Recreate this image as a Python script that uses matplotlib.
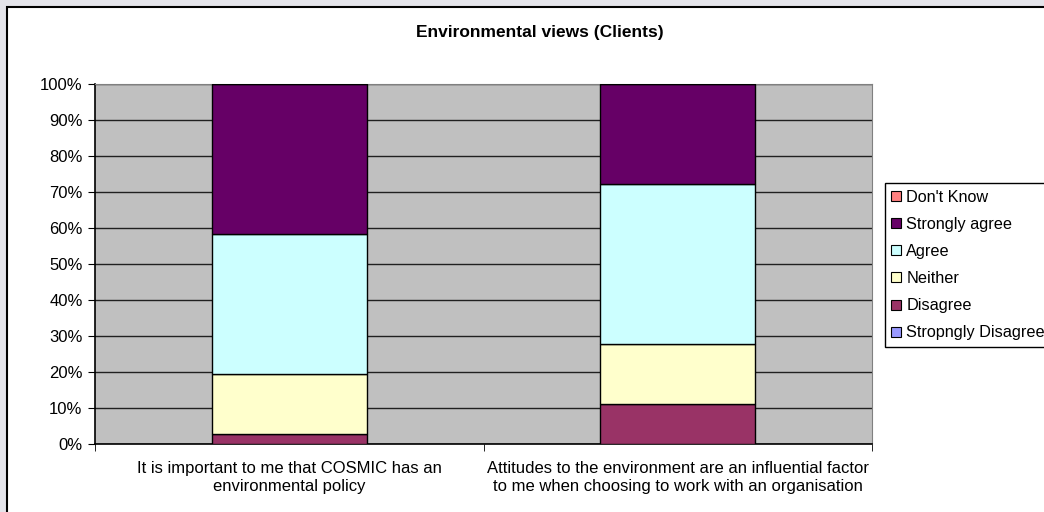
import matplotlib.pyplot as plt
import numpy as np
from matplotlib.patches import Rectangle
from matplotlib.lines import Line2D

plt.rcParams['font.family'] = ['Liberation Sans', 'DejaVu Sans']

categories = ['It is important to me that COSMIC has an\nenvironmental policy',
              'Attitudes to the environment are an influential factor\nto me when choosing to work with an organisation']
series_names = ['Stropngly Disagree', 'Disagree', 'Neither', 'Agree', 'Strongly agree', "Don't Know"]
strongly_disagree = [0.0, 0.0]
disagree = [2.8, 11.1]
neither = [16.7, 16.7]
agree = [38.9, 44.4]
strongly_agree = [41.7, 27.8]
dont_know = [0.0, 0.0]
colors = ['#9999FF', '#993366', '#FFFFCC', '#CCFFFF', '#660066', '#FF8080']

fs = 12
fig = plt.figure(figsize=(10.44, 5.12), dpi=100)
fig.patch.set_facecolor('#e4e4ea')
# white chart frame
fig.patches.append(Rectangle((7 / 1044, -0.05), 1.1, 1 - 7 / 512 + 0.05,
                             transform=fig.transFigure, facecolor='white',
                             edgecolor='black', linewidth=1.5, zorder=-1))

ax = fig.add_axes([95 / 1044, 1 - 444 / 512, (872 - 95) / 1044, (444 - 84.3) / 512])
ax.set_facecolor('#C0C0C0')

x = np.arange(len(categories))
all_series = [strongly_disagree, disagree, neither, agree, strongly_agree, dont_know]
bottom = np.zeros(len(categories))
for name, vals, c in zip(series_names, all_series, colors):
    ax.bar(x, vals, 0.4, bottom=bottom, color=c, edgecolor='black', linewidth=1, zorder=3)
    bottom += np.array(vals)

ax.set_xlim(-0.5, 1.5)
ax.set_ylim(0, 100)
ax.set_yticks(np.arange(0, 101, 10))
ax.set_yticklabels([f'{v}%' for v in range(0, 101, 10)], fontsize=fs)
ax.yaxis.grid(True, color='#202020', linewidth=1, zorder=1)
ax.set_axisbelow(True)
ax.set_xticks(x)
ax.set_xticklabels(categories, fontsize=fs, linespacing=1.3)
ax.tick_params(axis='x', length=0, pad=12)
ax.set_xticks([-0.5, 0.5, 1.5], minor=True)
ax.tick_params(axis='x', which='minor', length=5, direction='out', color='black')
ax.tick_params(axis='y', length=5, direction='out', color='black', pad=4)

for s in ['top', 'right']:
    ax.spines[s].set_color('#808080')
for s in ['left', 'bottom']:
    ax.spines[s].set_color('black')
    ax.spines[s].set_linewidth(1.2)

fig.text(540 / 1044, 1 - 33 / 512, 'Environmental views (Clients)', ha='center', va='center',
         fontsize=12.5, fontweight='bold')

handles = [Line2D([], [], marker='s', linestyle='none', markersize=7,
                  markerfacecolor=c, markeredgecolor='black', markeredgewidth=0.8)
           for c in colors]
leg = fig.legend(handles[::-1], series_names[::-1], loc='upper left',
                 bbox_to_anchor=(885 / 1044, 1 - 183 / 512), fontsize=11.7,
                 frameon=True, fancybox=False, edgecolor='black', framealpha=1,
                 handlelength=0.6, handletextpad=0.3, labelspacing=0.75,
                 borderpad=0.4, borderaxespad=0)
leg.get_frame().set_linewidth(1)

fig.savefig('out.png', dpi=100, facecolor=fig.get_facecolor())
